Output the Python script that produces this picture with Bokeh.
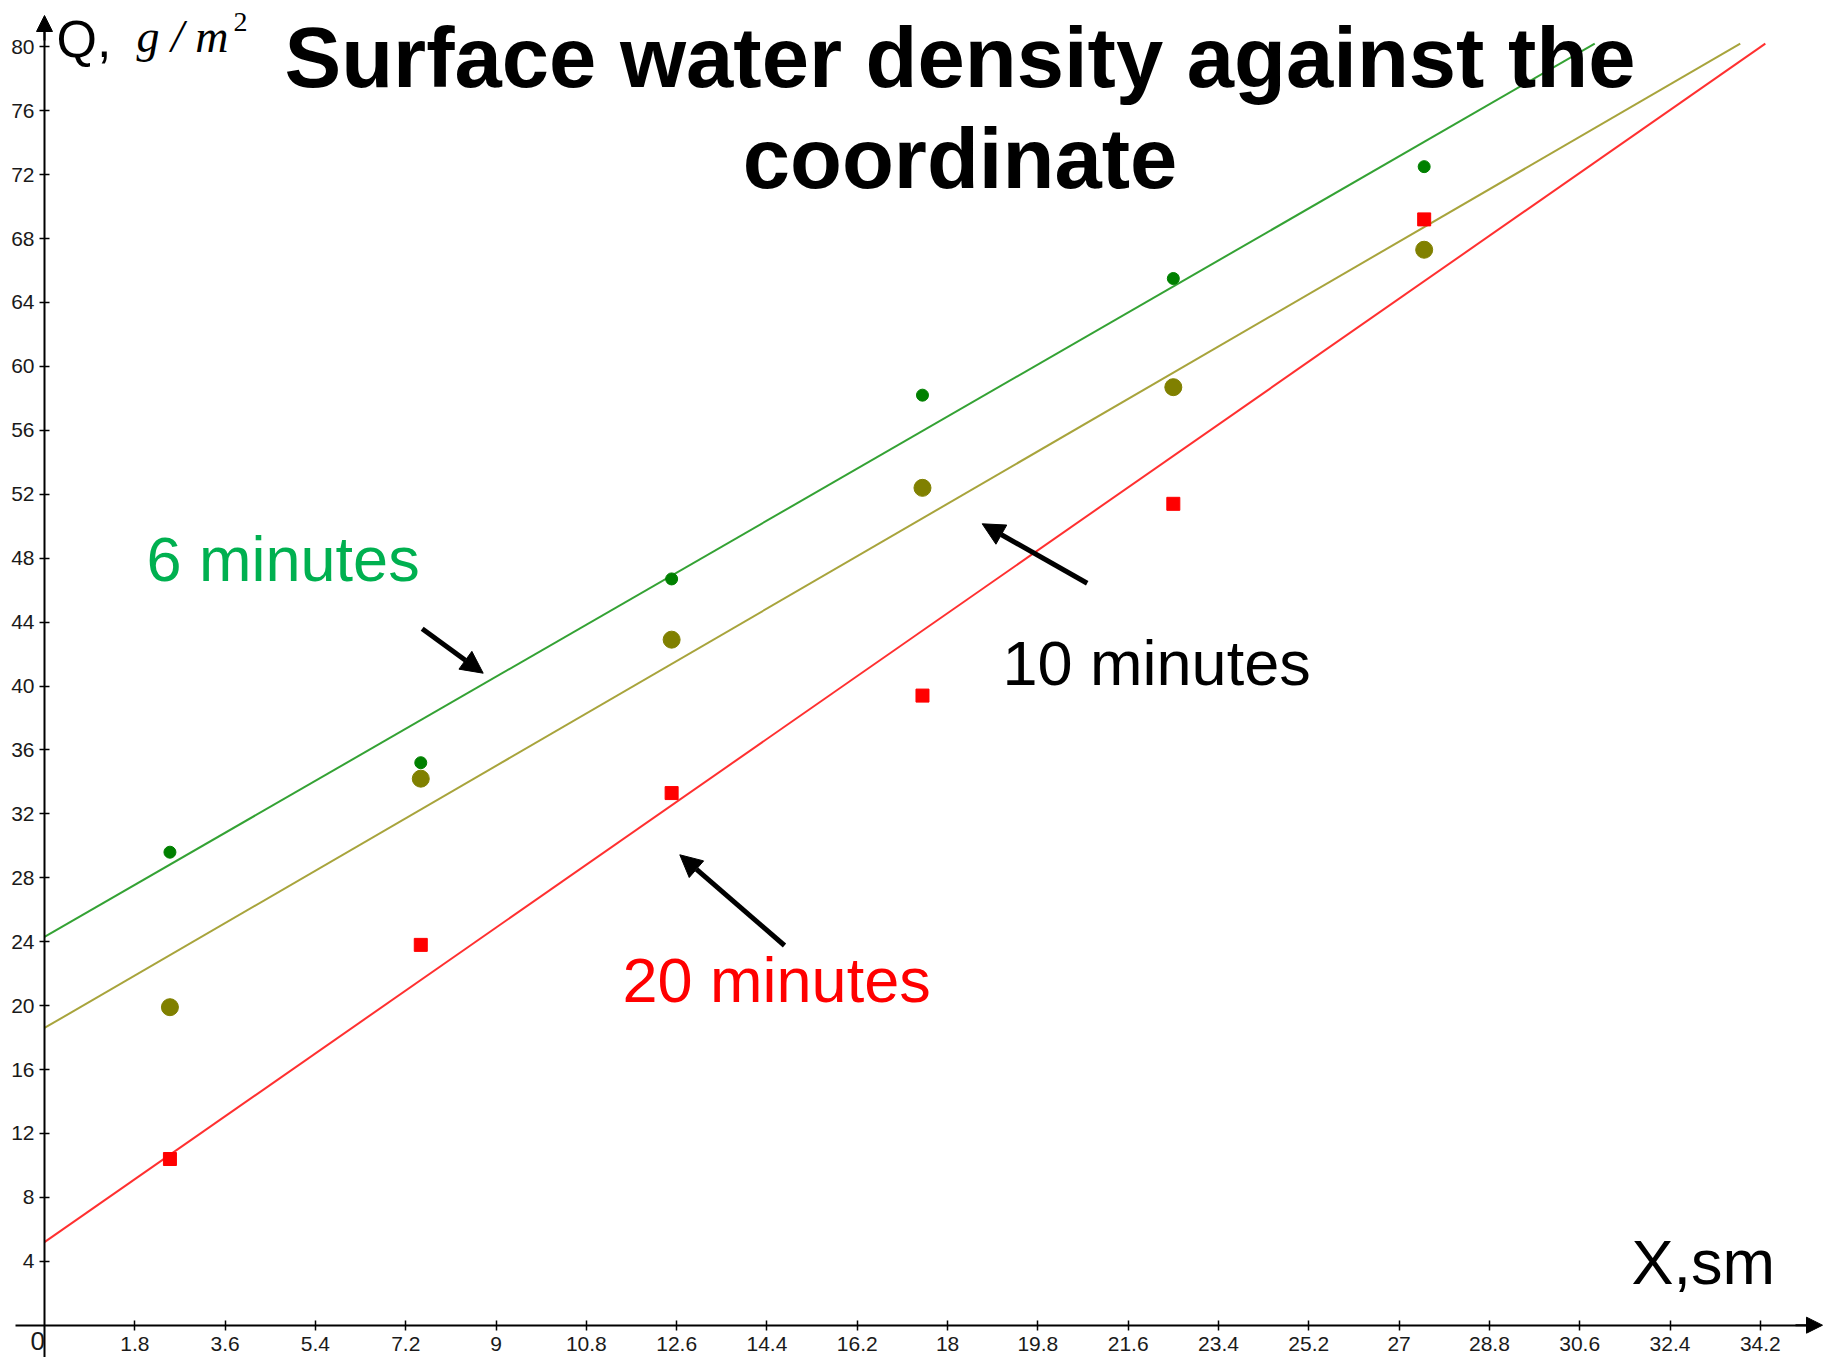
from bokeh.plotting import figure
from bokeh.models import Range1d, FixedTicker, Label, Arrow, NormalHead
from bokeh.embed import file_html
from bokeh.resources import INLINE

# ---------------- data ----------------
x_pos = [2.5, 7.5, 12.5, 17.5, 22.5, 27.5]          # X, sm
q_6min = [29.6, 35.2, 46.7, 58.2, 65.5, 72.5]        # Q, g/m^2 after 6 minutes
q_10min = [19.9, 34.2, 42.9, 52.4, 58.7, 67.3]       # after 10 minutes
q_20min = [10.4, 23.8, 33.3, 39.4, 51.4, 69.2]       # after 20 minutes

# fitted straight lines (end points)
fit6_x = [0.0, 30.9]
fit6_q = [24.3, 80.2]
fit10_x = [0.0, 33.8]
fit10_q = [18.6, 80.2]
fit20_x = [0.0, 34.3]
fit20_q = [5.2, 80.2]

x_ticks = [1.8, 3.6, 5.4, 7.2, 9, 10.8, 12.6, 14.4, 16.2, 18, 19.8, 21.6,
           23.4, 25.2, 27, 28.8, 30.6, 32.4, 34.2]
x_tick_labels = ["1.8", "3.6", "5.4", "7.2", "9", "10.8", "12.6", "14.4", "16.2",
                 "18", "19.8", "21.6", "23.4", "25.2", "27", "28.8", "30.6",
                 "32.4", "34.2"]
y_ticks = [4, 8, 12, 16, 20, 24, 28, 32, 36, 40, 44, 48, 52, 56, 60, 64, 68,
           72, 76, 80]
y_tick_labels = [str(t) for t in y_ticks]

# ---------------- layout ----------------
W, H = 1824, 1357
X0_PAGE, SX = 44.0, 50.17      # page px of x=0, px per unit
Y0_PAGE, SY = 1324.7, 15.98    # page px of y=0, px per unit


def sx(page_x):
    return page_x


def sy(page_y):
    return H - page_y


x_start = -X0_PAGE / SX
x_end = x_start + W / SX
y_end = Y0_PAGE / SY
y_start = y_end - H / SY

p = figure(width=W, height=H, x_range=Range1d(x_start, x_end),
           y_range=Range1d(y_start, y_end), output_backend="svg",
           toolbar_location=None, min_border=0)
p.outline_line_color = None
p.grid.visible = False
p.background_fill_color = "white"

TICK_FONT = "Liberation Sans"
for ax in (p.xaxis[0], p.yaxis[0]):
    ax.fixed_location = 0
    ax.axis_line_width = 2
    ax.axis_line_color = "black"
    ax.major_tick_in = 5
    ax.major_tick_out = 5
    ax.major_tick_line_width = 1.5
    ax.minor_tick_line_color = None
    ax.major_label_text_font = TICK_FONT
    ax.major_label_text_font_size = "21px"
    ax.major_label_text_color = "#1a1a1a"

p.xaxis[0].ticker = FixedTicker(ticks=x_ticks)
p.xaxis[0].major_label_overrides = dict(zip(x_ticks, x_tick_labels))
p.xaxis[0].major_label_standoff = 7
p.xaxis[0].bounds = (-0.58, 35.3)
p.yaxis[0].ticker = FixedTicker(ticks=y_ticks)
p.yaxis[0].major_label_overrides = dict(zip(y_ticks, y_tick_labels))
p.yaxis[0].major_label_standoff = 5
p.yaxis[0].bounds = (y_start, 81.0)

# axis arrow heads
p.add_layout(Arrow(end=NormalHead(size=16, fill_color="black", line_color="black"),
                   x_start=sx(X0_PAGE), y_start=sy(40), x_end=sx(X0_PAGE), y_end=sy(15),
                   start_units="screen", end_units="screen",
                   line_color="black", line_width=2))
p.add_layout(Arrow(end=NormalHead(size=16, fill_color="black", line_color="black"),
                   x_start=sx(1795), y_start=sy(Y0_PAGE), x_end=sx(1822), y_end=sy(Y0_PAGE),
                   start_units="screen", end_units="screen",
                   line_color="black", line_width=2))

# fitted lines
p.line(fit6_x, fit6_q, line_color="#34a234", line_width=2)
p.line(fit10_x, fit10_q, line_color="#a8a43c", line_width=2)
p.line(fit20_x, fit20_q, line_color="#ff3030", line_width=2)

# measured points
p.scatter(x_pos, q_6min, marker="circle", size=12, fill_color="#008000",
          line_color="#008000")
p.scatter(x_pos, q_10min, marker="circle", size=17, fill_color="#808000",
          line_color="#808000")
p.scatter(x_pos, q_20min, marker="square", size=13, fill_color="#ff0000",
          line_color="#ff0000")

# ---------------- texts ----------------
SANS = "Liberation Sans"
BASELINE_FIX = 0.37   # renderer puts the alphabetic baseline this many em lower


def label(text, px, py, size, color="black", font=SANS, style="normal",
          align="left"):
    p.add_layout(Label(x=sx(px), y=sy(py - BASELINE_FIX * size),
                       x_units="screen", y_units="screen",
                       text=text, text_font=font, text_font_size=f"{size}px",
                       text_color=color, text_font_style=style,
                       text_align=align, text_baseline="alphabetic"))


label("Surface water density against the", 959.5, 88, 85, style="bold",
      align="center")
label("coordinate", 959.5, 189, 85, style="bold", align="center")

label("Q,", 56, 58, 52)
label("g / m", 136, 53.5, 46, font="Liberation Serif", style="italic")
label("2", 233, 32, 28, font="Liberation Serif")

label("6 minutes", 146, 582, 63, color="#00b050")
label("10 minutes", 1002, 686, 63)
label("20 minutes", 622, 1003, 63, color="#ff0000")
label("X,sm", 1631, 1285, 63)
label("0", 30, 1350, 26, color="#1a1a1a")

# annotation arrows
for (tx, ty, hx, hy) in [(421.7, 628.3, 482.7, 672.7),
                         (1086.7, 582.7, 981.7, 523.3),
                         (784.0, 945.0, 679.3, 854.3)]:
    p.add_layout(Arrow(end=NormalHead(size=22, fill_color="black", line_color="black"),
                       x_start=sx(tx), y_start=sy(ty), x_end=sx(hx), y_end=sy(hy),
                       start_units="screen", end_units="screen",
                       line_color="black", line_width=5))

open("out.html", "w").write(file_html(p, INLINE))
